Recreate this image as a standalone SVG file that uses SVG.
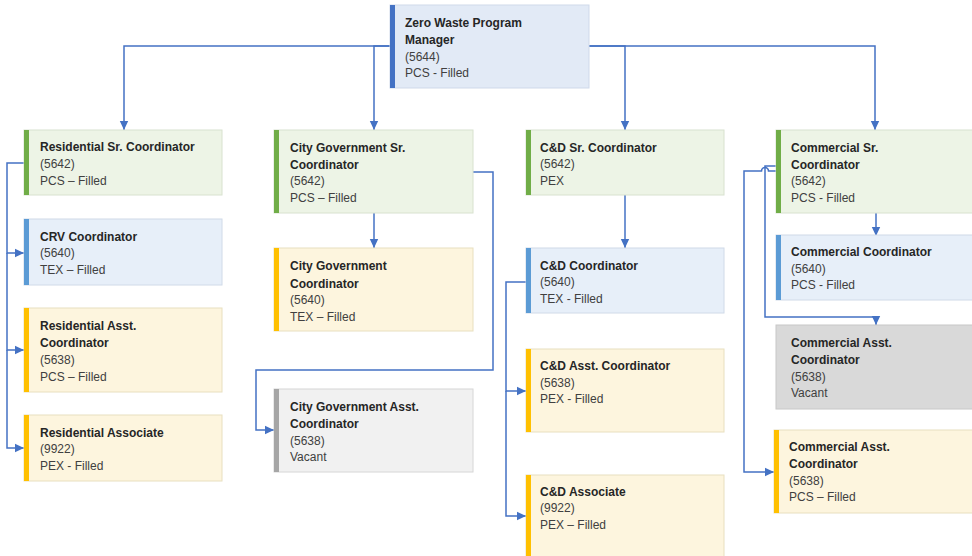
<svg xmlns="http://www.w3.org/2000/svg" width="972" height="556" viewBox="0 0 972 556">
<defs>
<marker id="ah" markerUnits="userSpaceOnUse" markerWidth="10" markerHeight="10" refX="9" refY="5" orient="auto">
<path d="M0,0.8 L9,5 L0,9.2 Z" fill="#4472c4"/>
</marker>
<style>
.t{font-family:"Liberation Sans",Arial,sans-serif;font-size:12px;fill:#262626;font-weight:bold}
.s{font-family:"Liberation Sans",Arial,sans-serif;font-size:12px;fill:#404040}
.green{fill:#edf4e6;stroke:#d8e2cf;stroke-width:1}
.blue{fill:#e7eff9;stroke:#d0dae8;stroke-width:1}
.top{fill:#e2eaf6;stroke:#cfd9ea;stroke-width:1}
.yellow{fill:#fdf5de;stroke:#e8dfbf;stroke-width:1}
.gray{fill:#f1f1f1;stroke:#d6d6d6;stroke-width:1}
.dgray{fill:#d9d9d9;stroke:#c8c8c8;stroke-width:1}
.bg{fill:#70ad47}.bb{fill:#5b9bd5}.bt{fill:#4472c4}.by{fill:#ffc000}.bgr{fill:#a6a6a6}
.c{fill:none;stroke:#4472c4;stroke-width:1.5}
</style>
</defs>
<rect width="972" height="556" fill="#ffffff"/>

<g id="connectors">
<path class="c" d="M390,46 H124 V130" marker-end="url(#ah)"/>
<path class="c" d="M390,46 H374 V130" marker-end="url(#ah)"/>
<path class="c" d="M589,46 H625 V130" marker-end="url(#ah)"/>
<path class="c" d="M589,46 H875 V130" marker-end="url(#ah)"/>
<path class="c" d="M24,163 H7 V253 H24" marker-end="url(#ah)"/>
<path class="c" d="M7,253 V350 H24" marker-end="url(#ah)"/>
<path class="c" d="M7,350 V448 H24" marker-end="url(#ah)"/>
<path class="c" d="M374,213 V248" marker-end="url(#ah)"/>
<path class="c" d="M473,172 H493 V370 H256 V430 H274" marker-end="url(#ah)"/>
<path class="c" d="M625,195 V248" marker-end="url(#ah)"/>
<path class="c" d="M526,282 H506 V391 H526" marker-end="url(#ah)"/>
<path class="c" d="M506,391 V516 H526" marker-end="url(#ah)"/>
<path class="c" d="M876,213 V236" marker-end="url(#ah)"/>
<path class="c" d="M776,166 H765 V317 H876 V325" marker-end="url(#ah)"/>
<path class="c" d="M776,171 H768.5 A3.5,3.5 0 0 0 761.5,171 H744 V472 H774" marker-end="url(#ah)"/>
</g>

<g id="n-manager">
<rect class="top" x="390" y="5" width="199" height="83"/>
<rect class="bt" x="390" y="5" width="5" height="83"/>
<text class="t" x="405" y="27">Zero Waste Program</text>
<text class="t" x="405" y="44">Manager</text>
<text class="s" x="405" y="61">(5644)</text>
<text class="s" x="405" y="77">PCS - Filled</text>
</g>

<g id="n-res-sr">
<rect class="green" x="24" y="130" width="198" height="65"/>
<rect class="bg" x="24" y="130" width="5" height="65"/>
<text class="t" x="40" y="151">Residential Sr. Coordinator</text>
<text class="s" x="40" y="168">(5642)</text>
<text class="s" x="40" y="185">PCS – Filled</text>
</g>

<g id="n-crv">
<rect class="blue" x="24" y="219" width="198" height="66"/>
<rect class="bb" x="24" y="219" width="5" height="66"/>
<text class="t" x="40" y="241">CRV Coordinator</text>
<text class="s" x="40" y="257">(5640)</text>
<text class="s" x="40" y="274">TEX – Filled</text>
</g>

<g id="n-res-asst">
<rect class="yellow" x="24" y="308" width="198" height="84"/>
<rect class="by" x="24" y="308" width="5" height="84"/>
<text class="t" x="40" y="330">Residential Asst.</text>
<text class="t" x="40" y="347">Coordinator</text>
<text class="s" x="40" y="364">(5638)</text>
<text class="s" x="40" y="381">PCS – Filled</text>
</g>

<g id="n-res-assoc">
<rect class="yellow" x="24" y="415" width="198" height="66"/>
<rect class="by" x="24" y="415" width="5" height="66"/>
<text class="t" x="40" y="437">Residential Associate</text>
<text class="s" x="40" y="453">(9922)</text>
<text class="s" x="40" y="470">PEX - Filled</text>
</g>

<g id="n-city-sr">
<rect class="green" x="274" y="130" width="199" height="83"/>
<rect class="bg" x="274" y="130" width="5" height="83"/>
<text class="t" x="290" y="152">City Government Sr.</text>
<text class="t" x="290" y="169">Coordinator</text>
<text class="s" x="290" y="185">(5642)</text>
<text class="s" x="290" y="202">PCS – Filled</text>
</g>

<g id="n-city-coord">
<rect class="yellow" x="274" y="248" width="199" height="83"/>
<rect class="by" x="274" y="248" width="5" height="83"/>
<text class="t" x="290" y="270">City Government</text>
<text class="t" x="290" y="288">Coordinator</text>
<text class="s" x="290" y="304">(5640)</text>
<text class="s" x="290" y="321">TEX – Filled</text>
</g>

<g id="n-city-asst">
<rect class="gray" x="274" y="389" width="199" height="83"/>
<rect class="bgr" x="274" y="389" width="5" height="83"/>
<text class="t" x="290" y="411">City Government Asst.</text>
<text class="t" x="290" y="428">Coordinator</text>
<text class="s" x="290" y="445">(5638)</text>
<text class="s" x="290" y="461">Vacant</text>
</g>

<g id="n-cd-sr">
<rect class="green" x="526" y="130" width="198" height="65"/>
<rect class="bg" x="526" y="130" width="5" height="65"/>
<text class="t" x="540" y="152">C&amp;D Sr. Coordinator</text>
<text class="s" x="540" y="168">(5642)</text>
<text class="s" x="540" y="185">PEX</text>
</g>

<g id="n-cd-coord">
<rect class="blue" x="526" y="248" width="198" height="65"/>
<rect class="bb" x="526" y="248" width="5" height="65"/>
<text class="t" x="540" y="270">C&amp;D Coordinator</text>
<text class="s" x="540" y="286">(5640)</text>
<text class="s" x="540" y="303">TEX - Filled</text>
</g>

<g id="n-cd-asst">
<rect class="yellow" x="526" y="349" width="198" height="83"/>
<rect class="by" x="526" y="349" width="5" height="83"/>
<text class="t" x="540" y="370">C&amp;D Asst. Coordinator</text>
<text class="s" x="540" y="387">(5638)</text>
<text class="s" x="540" y="403">PEX - Filled</text>
</g>

<g id="n-cd-assoc">
<rect class="yellow" x="526" y="475" width="198" height="82"/>
<rect class="by" x="526" y="475" width="5" height="82"/>
<text class="t" x="540" y="496">C&amp;D Associate</text>
<text class="s" x="540" y="512">(9922)</text>
<text class="s" x="540" y="529">PEX – Filled</text>
</g>

<g id="n-com-sr">
<rect class="green" x="776" y="130" width="200" height="83"/>
<rect class="bg" x="776" y="130" width="5" height="83"/>
<text class="t" x="791" y="152">Commercial Sr.</text>
<text class="t" x="791" y="169">Coordinator</text>
<text class="s" x="791" y="185">(5642)</text>
<text class="s" x="791" y="202">PCS - Filled</text>
</g>

<g id="n-com-coord">
<rect class="blue" x="776" y="235" width="200" height="65"/>
<rect class="bb" x="776" y="235" width="5" height="65"/>
<text class="t" x="791" y="256">Commercial Coordinator</text>
<text class="s" x="791" y="273">(5640)</text>
<text class="s" x="791" y="289">PCS - Filled</text>
</g>

<g id="n-com-asst-vacant">
<rect class="dgray" x="776" y="325" width="200" height="84"/>
<text class="t" x="791" y="347">Commercial Asst.</text>
<text class="t" x="791" y="364">Coordinator</text>
<text class="s" x="791" y="381">(5638)</text>
<text class="s" x="791" y="397">Vacant</text>
</g>

<g id="n-com-asst-filled">
<rect class="yellow" x="774" y="430" width="202" height="83"/>
<rect class="by" x="774" y="430" width="5" height="83"/>
<text class="t" x="789" y="451">Commercial Asst.</text>
<text class="t" x="789" y="468">Coordinator</text>
<text class="s" x="789" y="485">(5638)</text>
<text class="s" x="789" y="501">PCS – Filled</text>
</g>
</svg>
